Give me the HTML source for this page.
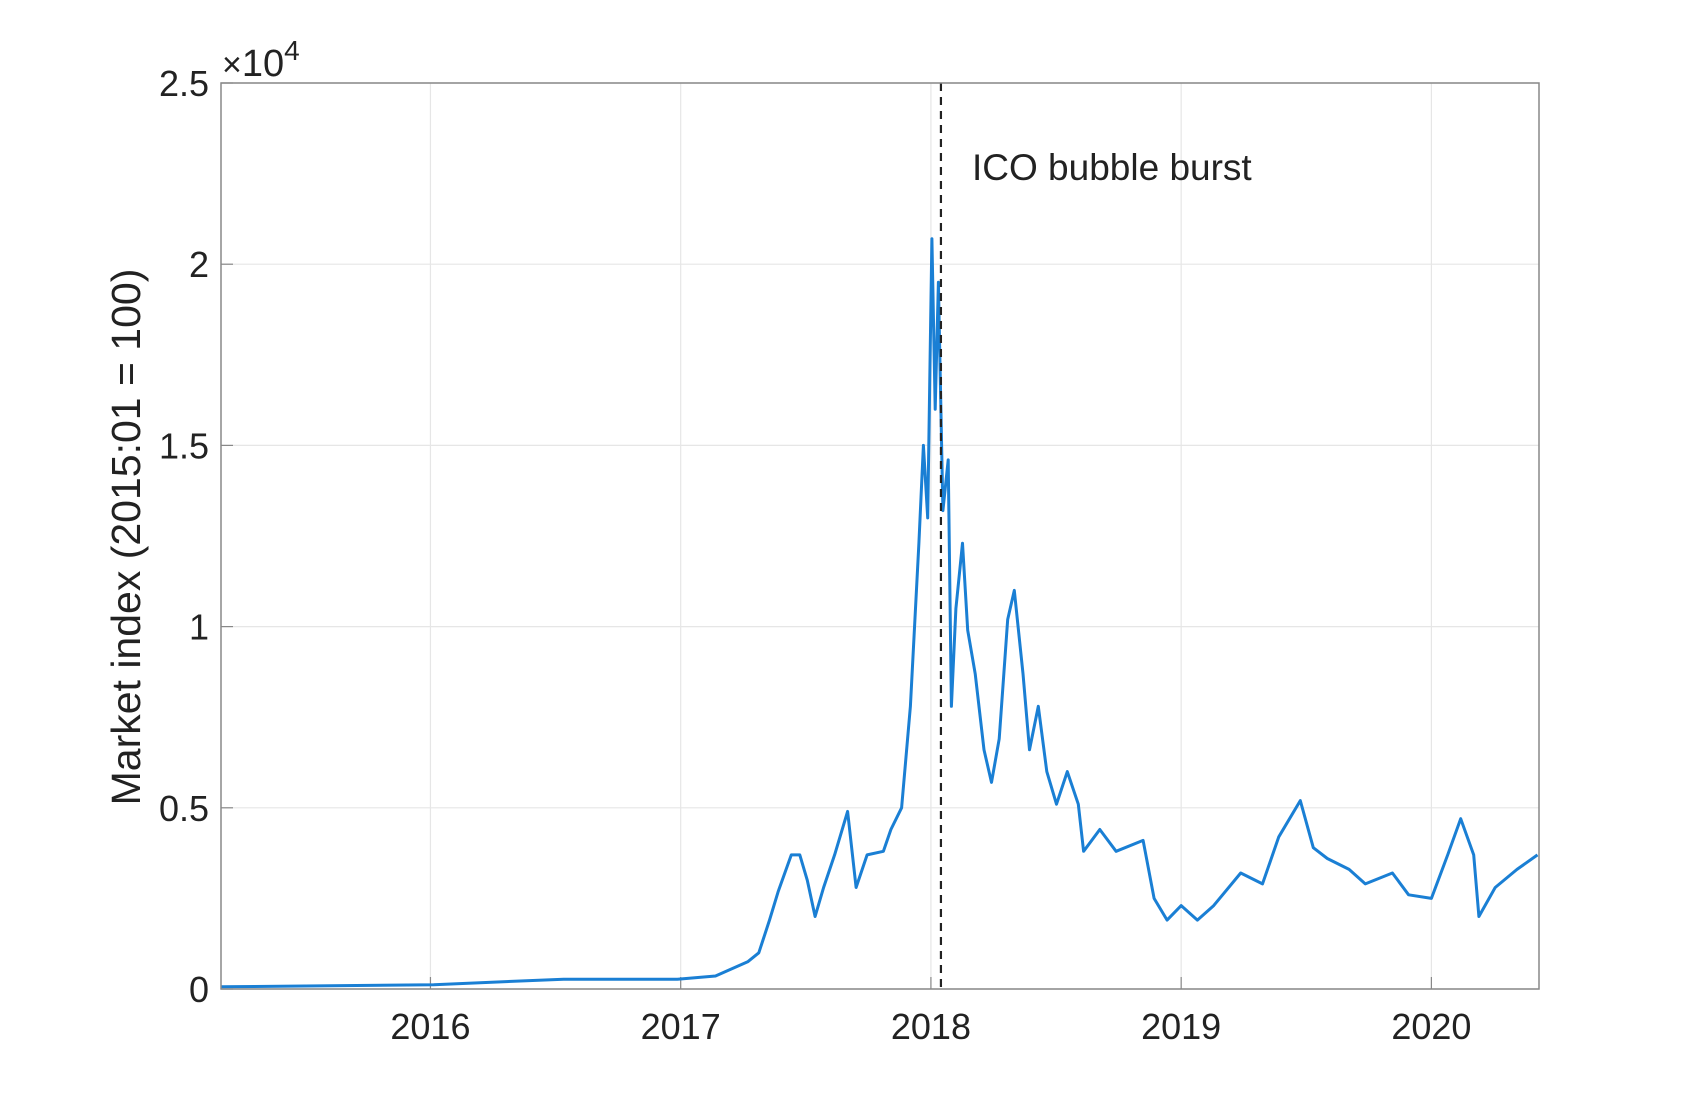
<!DOCTYPE html>
<html><head><meta charset="utf-8"><style>
body{margin:0;background:#fff}
svg text{font-family:"Liberation Sans",Arial,sans-serif;fill:#222}
</style></head><body>
<svg id="chart" width="1700" height="1112" xmlns="http://www.w3.org/2000/svg">
<g id="grid"></g>
<g id="ticks"></g>
<g id="series"></g>
<rect x="221" y="83" width="1318" height="906" fill="none" stroke="#888" stroke-width="1.5"/>
<text transform="translate(140,537) rotate(-90)" text-anchor="middle" font-size="41">Market index (2015:01 = 100)</text>
<text x="222" y="76" font-size="38"><tspan font-size="34">×</tspan>10<tspan font-size="28" dy="-16">4</tspan></text>
<text x="972" y="180" font-size="37">ICO bubble burst</text>
</svg>
<script>
const dates=[2015.165,2016.013,2016.532,2016.987,2017.139,2017.268,2017.312,2017.355,2017.390,2017.442,2017.476,2017.506,2017.537,2017.571,2017.615,2017.667,2017.701,2017.745,2017.810,2017.840,2017.883,2017.918,2017.952,2017.970,2017.987,2018.004,2018.017,2018.030,2018.048,2018.069,2018.082,2018.100,2018.126,2018.147,2018.177,2018.212,2018.242,2018.273,2018.307,2018.333,2018.368,2018.394,2018.429,2018.463,2018.502,2018.545,2018.589,2018.610,2018.675,2018.740,2018.848,2018.892,2018.944,2019.000,2019.065,2019.130,2019.238,2019.325,2019.390,2019.476,2019.528,2019.584,2019.671,2019.736,2019.844,2019.909,2020.000,2020.065,2020.117,2020.169,2020.190,2020.255,2020.342,2020.424];
const values=[0.006,0.012,0.027,0.027,0.036,0.075,0.1,0.19,0.27,0.37,0.37,0.3,0.2,0.28,0.37,0.49,0.28,0.37,0.38,0.44,0.5,0.78,1.23,1.5,1.3,2.07,1.6,1.95,1.32,1.46,0.78,1.05,1.23,0.99,0.87,0.66,0.57,0.69,1.02,1.1,0.87,0.66,0.78,0.6,0.51,0.6,0.51,0.38,0.44,0.38,0.41,0.25,0.19,0.23,0.19,0.23,0.32,0.29,0.42,0.52,0.39,0.36,0.33,0.29,0.32,0.26,0.25,0.37,0.47,0.37,0.2,0.28,0.33,0.37];
const xTicks=[2016,2017,2018,2019,2020];
const yTicks=[0,0.5,1,1.5,2,2.5];
const yTickLabels=["0","0.5","1","1.5","2","2.5"];
const eventDate=2018.04;
const L=221,R=1539,T=83,B=989;
const x0=2015.163,x1=2020.43;
const X=d=>L+(d-x0)/(x1-x0)*(R-L);
const Y=v=>B-v/2.5*(B-T);
const NS="http://www.w3.org/2000/svg";
function mk(tag,parent,attrs){const e=document.createElementNS(NS,tag);for(const k in attrs)e.setAttribute(k,attrs[k]);parent.appendChild(e);return e;}
const grid=document.getElementById('grid'),ticks=document.getElementById('ticks'),series=document.getElementById('series');
xTicks.forEach(t=>{
 const g=mk('line',grid,{x1:X(t),x2:X(t),y1:T,y2:B,stroke:'#e6e6e6','stroke-width':1.2});
 
 
 const tk=mk('line',ticks,{x1:X(t),x2:X(t),y1:B,y2:B-12,stroke:'#888','stroke-width':1.2});
 
 
 const lb=mk('text',ticks,{x:X(t),y:1039,'text-anchor':'middle','font-size':36});
 lb.textContent=t;
 
 
});
yTicks.forEach((t,i)=>{
 const g=mk('line',grid,{x1:L,x2:R,y1:Y(t),y2:Y(t),stroke:'#e6e6e6','stroke-width':1.2});
 
 
 const tk=mk('line',ticks,{x1:L,x2:L+12,y1:Y(t),y2:Y(t),stroke:'#888','stroke-width':1.2});
 
 
 const lb=mk('text',ticks,{x:209,y:Y(t)+13,'text-anchor':'end','font-size':36});
 lb.textContent=yTickLabels[i];
 
 
});
const pts=dates.map((d,i)=>X(d).toFixed(1)+','+Y(values[i]).toFixed(1)).join(' ');
const line=mk('polyline',series,{points:pts,fill:'none',stroke:'#1a7fd4','stroke-width':3,'stroke-linejoin':'round'});


const ev=mk('line',series,{x1:X(eventDate),x2:X(eventDate),y1:T,y2:B,stroke:'#222','stroke-width':2.2,'stroke-dasharray':'8,6'});


</script>
</body></html>
